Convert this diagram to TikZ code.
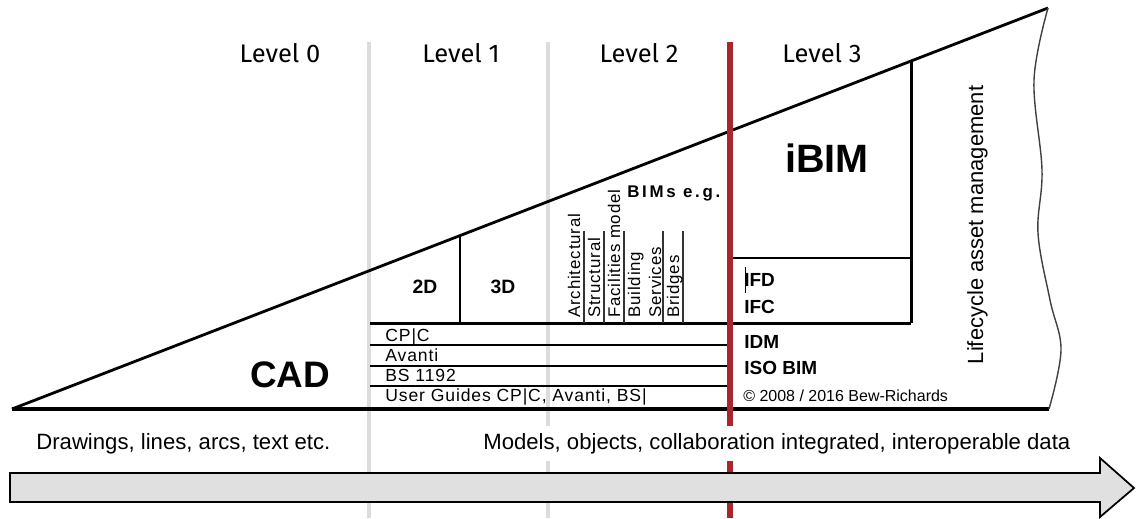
\documentclass[tikz,border=0pt]{standalone}
\usepackage{fontspec}
\setmainfont{Liberation Sans}
\newfontfamily\lvlfont{Fira Sans}
\newfontfamily\tblfont[LetterSpace=5]{Liberation Sans}
\newfontfamily\rotfont[LetterSpace=5]{Liberation Sans}
\newfontfamily\bimfont[LetterSpace=16]{Liberation Sans}
\definecolor{lvlgray}{HTML}{DCDCDC}
\definecolor{lvlred}{HTML}{A8262C}
\definecolor{arrowfill}{HTML}{E0E0E0}
\begin{document}
\begin{tikzpicture}[x=0.02cm,y=-0.02cm,
  grayline/.style={draw=lvlgray,line width=2.7pt},
  redline/.style={draw=lvlred,line width=3.1pt},
  heavy/.style={draw=black,line width=1.7pt},
  thinline/.style={draw=black,line width=0.6pt},
  sepline/.style={draw=black!80,line width=0.6pt},
  wave/.style={draw=black!75,line width=0.8pt},
  lvl/.style={font=\lvlfont\fontsize{14.5}{16}\selectfont,inner sep=0pt,anchor=base},
  tbl/.style={font=\tblfont\fontsize{10}{11}\selectfont,inner sep=0pt,anchor=base west},
  rot/.style={font=\rotfont\fontsize{9.6}{10}\selectfont,inner sep=0pt,rotate=90,anchor=base west},
  std/.style={font=\bfseries\fontsize{10.8}{12}\selectfont,inner sep=0pt,anchor=base west},
  big/.style={font=\bfseries\fontsize{21}{24}\selectfont,inner sep=0pt,anchor=base},
  dim/.style={font=\bfseries\fontsize{11}{12}\selectfont,inner sep=0pt,anchor=base},
  captext/.style={font=\fontsize{12.6}{14}\selectfont,inner sep=0pt,anchor=base west},
]
\path[use as bounding box] (0,0) rectangle (1136,518);

% key points
\coordinate (A) at (12,409);
\coordinate (T) at (1048,8);
\coordinate (B) at (1049,409);
\coordinate (d23top) at (460,235.6);
\coordinate (d23bot) at (460,323);
\coordinate (ibimtop) at (911,61);
\coordinate (ibimbot) at (911,323);
\coordinate (tblL) at (370,323);
\coordinate (midL) at (730,258);
\coordinate (midR) at (911,258);

% level separators
\draw[grayline] (369,42) -- (369,518);
\draw[grayline] (548,42) -- (548,518);

% wedge
\draw[heavy,line width=1.6pt] (A) -- (T);
\draw[heavy,line width=1.8pt] (A) -- (B);
\draw[wave] plot[smooth,tension=0.6] coordinates {(1048,8) (1034,80) (1042,170) (1038,233) (1050,300) (1061,350) (1049,409)};

% 2D/3D divider and table
\draw[heavy] (d23top) -- (d23bot);
\draw[heavy] (tblL) -- (ibimbot);
\draw[thinline] (370,345) -- (730,345);
\draw[thinline] (370,366) -- (730,366);
\draw[thinline] (370,386) -- (730,386);

% iBIM box
\draw[heavy] (ibimtop) -- (ibimbot);
\draw[heavy] (midL) -- (midR);

% BIM separators
\foreach \x in {584,604,624,663,683} \draw[sepline] (\x,231) -- (\x,323);

% level 3 divider
\draw[redline] (730,42) -- (730,518);

% cursor mark
\draw[black,line width=0.45pt] (745,267) -- (745,293);

% level labels
\node[lvl] (l0) at (280,62) {Level 0};
\node[lvl] (l1) at (461,62) {Level 1};
\node[lvl] (l2) at (639,62) {Level 2};
\node[lvl] (l3) at (822,62) {Level 3};

% big labels
\node[big] (cad) at (290,387) {CAD};
\node[big,font=\bfseries\fontsize{22.5}{26}\selectfont] (ibim) at (827,172) {iBIM};

\node[dim] (d2) at (425,293) {2D};
\node[dim] (d3) at (503,293) {3D};

% table texts
\node[tbl] (cpic) at (385,341) {CP|C};
\node[tbl] (avanti) at (385,361) {Avanti};
\node[tbl] (bs) at (385,381) {BS 1192};
\node[tbl] (guides) at (385,401) {User Guides CP|C, Avanti, BS|};

% BIM types
\node[rot] (arch) at (580,318) {Architectural};
\node[rot] (struct) at (600,318) {Structural};
\node[rot] (fac) at (620,318) {Facilities model};
\node[rot] (build) at (640,318) {Building};
\node[rot] (serv) at (661,318) {Services};
\node[rot] (bridge) at (679,318) {Bridges};
\node[inner sep=0pt,anchor=base west,font=\bimfont\bfseries\fontsize{9.6}{10}\selectfont] (bims) at (627,197) {BIMs e.g.};

% standards
\node[std] (ifd) at (744,286) {IFD};
\node[std] (ifc) at (744,313) {IFC};
\node[std] (idm) at (744,348) {IDM};
\node[std] (iso) at (744,374) {ISO BIM};
\node[inner sep=0pt,anchor=base west,font=\fontsize{9.1}{10}\selectfont] (copy) at (743,401) {© 2008 / 2016 Bew-Richards};

% lifecycle
\node[inner sep=0pt,anchor=base,rotate=90,font=\fontsize{12.5}{14}\selectfont] (life) at (983,225) {Lifecycle asset management};

% captions
\node[captext] (drawtext) at (36,449) {Drawings, lines, arcs, text etc.};
\node[captext,fill=white,inner ysep=4pt] (models) at (483,449) {Models, objects, collaboration integrated, interoperable data};

% progress arrow
\draw[fill=arrowfill,draw=black,line width=1pt,line join=miter]
  (10,473) -- (1100,473) -- (1100,458) -- (1134,488) -- (1100,517) -- (1100,502) -- (10,502) -- cycle;
\end{tikzpicture}
\end{document}
